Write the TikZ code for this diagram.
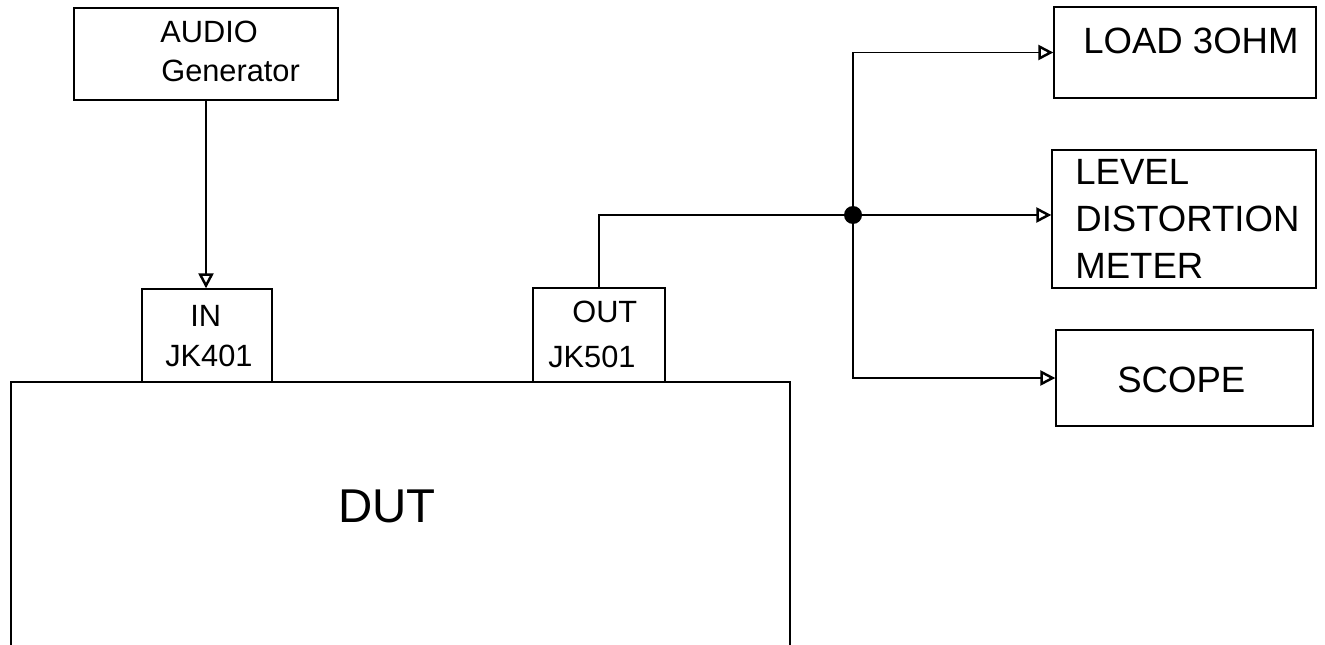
\documentclass[tikz,border=0pt]{standalone}
\usepackage{fontspec}
\setmainfont{Liberation Sans}
\usepackage{tikz}
\usetikzlibrary{arrows.meta, positioning}

\begin{document}
\begin{tikzpicture}[x=0.02cm, y=-0.02cm,
        box/.style={draw, line width=0.8pt, inner sep=0pt},
        lbl/.style={anchor=base west, inner sep=0pt, font=\fontsize{17.5}{21}\selectfont},
        biglbl/.style={anchor=base west, inner sep=0pt, font=\fontsize{20.8}{25}\selectfont},
        arr/.style={-{Triangle[open, length=8.5pt, width=8.5pt, line width=1.4pt]}, line width=0.6pt},
        wire/.style={line width=0.6pt}
      ]
        \useasboundingbox (0,0) rectangle (1325,645);
        \clip (0,0) rectangle (1325,645);

        % source and jacks
        \node[box, minimum width=5.28cm, minimum height=1.84cm] (gen) at (206,54) {};
        \node[lbl] (genA) at (160,43) {AUDIO};
        \node[lbl] (genB) at (161,82) {Generator};

        \node[box, minimum width=2.6cm, minimum height=1.86cm] (in) at (207,335.5) {};
        \node[lbl] (inA) at (190,326) {IN};
        \node[lbl] (inB) at (165,366) {JK401};

        \node[box, minimum width=2.64cm, minimum height=1.88cm] (out) at (599,335) {};
        \node[lbl] (outA) at (572,322) {OUT};
        \node[lbl] (outB) at (548,367) {JK501};

        % device under test (runs off the bottom)
        \node[box, minimum width=15.58cm, minimum height=6.36cm] (dut) at (400.5,541) {};
        \node[anchor=base west, inner sep=0pt, font=\fontsize{27}{32}\selectfont] (dutlbl) at (338,522) {DUT};

        % instruments
        \node[box, minimum width=5.24cm, minimum height=1.82cm] (load) at (1185,52.5) {};
        \node[biglbl] (loadlbl) at (1083,54) {LOAD 3OHM};

        \node[box, minimum width=5.28cm, minimum height=2.76cm] (level) at (1184,219) {};
        \node[biglbl] (levA) at (1075,185) {LEVEL};
        \node[biglbl] (levB) at (1075,232) {DISTORTION};
        \node[biglbl] (levC) at (1075,278) {METER};

        \node[box, minimum width=5.14cm, minimum height=1.92cm] (scope) at (1184.5,378) {};
        \node[biglbl] (scopelbl) at (1117,392) {SCOPE};

        \node[circle, fill, inner sep=0pt, minimum size=0.36cm] (jn) at (853,215) {};

        \draw[arr] (gen.south) -- (gen.south |- in.north);
        \draw[wire] (out.north) |- (jn);
        \draw[arr] (jn) |- (load.west);
        \draw[arr] (jn) -- (jn -| level.west);
        \draw[arr] (jn) |- (scope.west);
      \end{tikzpicture}
\end{document}
